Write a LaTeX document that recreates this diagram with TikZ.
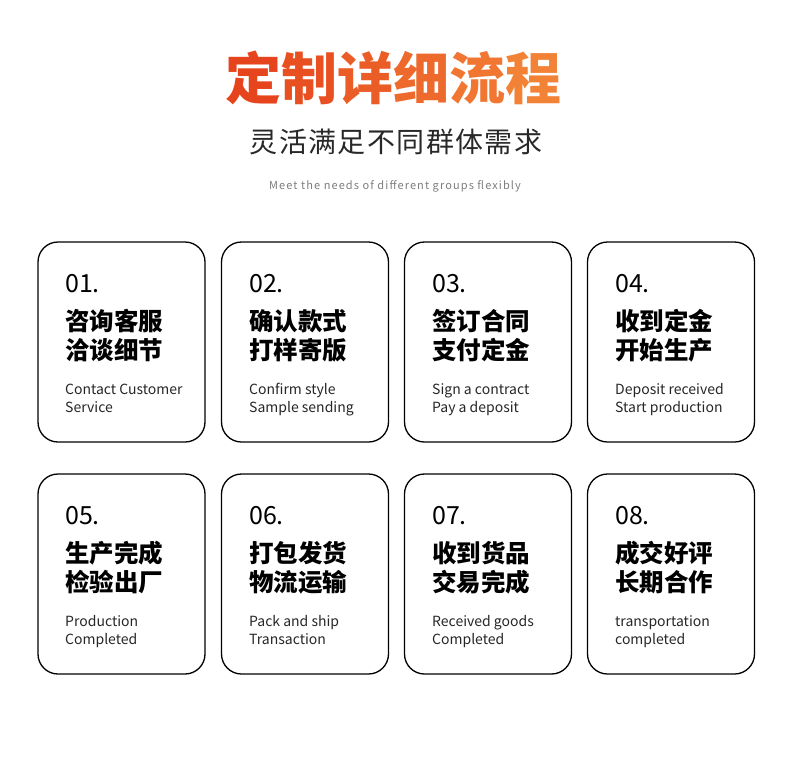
\documentclass[tikz,border=0pt]{standalone}
\usepackage{fontspec}
\setmainfont{Noto Sans CJK SC}
\usepackage{tikz}
\usetikzlibrary{positioning}

\definecolor{titleL}{RGB}{230,68,28}
\definecolor{titleR}{RGB}{242,130,54}
\definecolor{subgray}{RGB}{40,40,40}
\definecolor{engray}{RGB}{125,125,125}

\begin{document}
\begin{tikzpicture}[x=1pt,y=-1pt,
    card/.style={draw=black,line width=1.3pt,rounded corners=20pt,minimum width=167pt,minimum height=200pt,inner sep=0pt},
    num/.style={anchor=base west,inner sep=0pt,font=\fontsize{25}{25}\selectfont},
    cjk/.style={anchor=base west,inner sep=0pt,font=\fontsize{24.5}{25}\selectfont\bfseries},
    eng/.style={anchor=base west,inner sep=0pt,font=\fontsize{14}{15}\selectfont,text=black!85}]
            \useasboundingbox (0,0) rectangle (790,766);
            % heading
            \node (title) at (393,78) {\fontsize{56}{60}\selectfont\bfseries
                \textcolor{titleL}{定}\textcolor{titleR!20!titleL}{制}\textcolor{titleR!40!titleL}{详}\textcolor{titleR!60!titleL}{细}\textcolor{titleR!80!titleL}{流}\textcolor{titleR}{程}};
            \node[text=subgray] (sub) at (396,142) {\fontsize{28}{30}\selectfont\addfontfeature{LetterSpace=5}灵活满足不同群体需求};
            \node[text=engray] (subeng) at (395,186) {\fontsize{11}{12}\selectfont\addfontfeature{LetterSpace=10}Meet the needs of different groups flexibly};
            % first row
            \node[card] (c1) at (121.5,342) {};
            \node[card] (c2) at (305,342) {};
            \node[card] (c3) at (488,342) {};
            \node[card] (c4) at (671,342) {};
            \node[num] (n1) at (65,292) {01.};
            \node[cjk] (a1) at (65,330) {咨询客服};
            \node[cjk] (b1) at (65,359) {洽谈细节};
            \node[eng] (e1) at (65,394) {Contact Customer};
            \node[eng] (f1) at (65,412) {Service};
            \node[num] (n2) at (249,292) {02.};
            \node[cjk] (a2) at (249,330) {确认款式};
            \node[cjk] (b2) at (249,359) {打样寄版};
            \node[eng] (e2) at (249,394) {Confirm style};
            \node[eng] (f2) at (249,412) {Sample sending};
            \node[num] (n3) at (432,292) {03.};
            \node[cjk] (a3) at (432,330) {签订合同};
            \node[cjk] (b3) at (432,359) {支付定金};
            \node[eng] (e3) at (432,394) {Sign a contract};
            \node[eng] (f3) at (432,412) {Pay a deposit};
            \node[num] (n4) at (615,292) {04.};
            \node[cjk] (a4) at (615,330) {收到定金};
            \node[cjk] (b4) at (615,359) {开始生产};
            \node[eng] (e4) at (615,394) {Deposit received};
            \node[eng] (f4) at (615,412) {Start production};
            % second row
            \node[card] (c5) at (121.5,574) {};
            \node[card] (c6) at (305,574) {};
            \node[card] (c7) at (488,574) {};
            \node[card] (c8) at (671,574) {};
            \node[num] (n5) at (65,524) {05.};
            \node[cjk] (a5) at (65,562) {生产完成};
            \node[cjk] (b5) at (65,591) {检验出厂};
            \node[eng] (e5) at (65,626) {Production};
            \node[eng] (f5) at (65,644) {Completed};
            \node[num] (n6) at (249,524) {06.};
            \node[cjk] (a6) at (249,562) {打包发货};
            \node[cjk] (b6) at (249,591) {物流运输};
            \node[eng] (e6) at (249,626) {Pack and ship};
            \node[eng] (f6) at (249,644) {Transaction};
            \node[num] (n7) at (432,524) {07.};
            \node[cjk] (a7) at (432,562) {收到货品};
            \node[cjk] (b7) at (432,591) {交易完成};
            \node[eng] (e7) at (432,626) {Received goods};
            \node[eng] (f7) at (432,644) {Completed};
            \node[num] (n8) at (615,524) {08.};
            \node[cjk] (a8) at (615,562) {成交好评};
            \node[cjk] (b8) at (615,591) {长期合作};
            \node[eng] (e8) at (615,626) {transportation};
            \node[eng] (f8) at (615,644) {completed};
        \end{tikzpicture}
\end{document}
